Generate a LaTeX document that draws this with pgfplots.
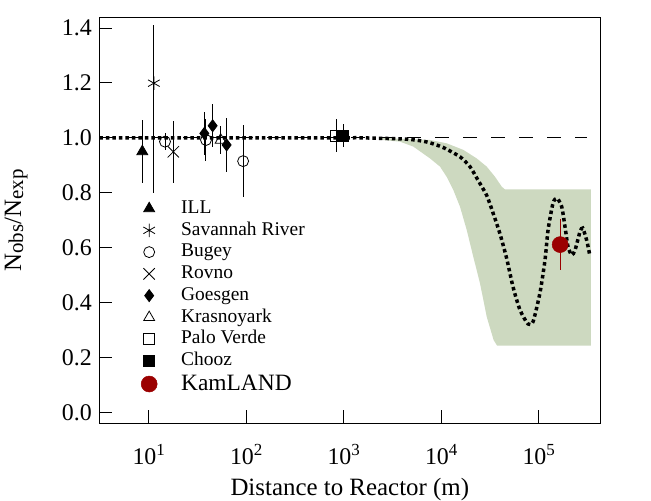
\documentclass[border=0pt]{standalone}
\usepackage{fontspec}
\setmainfont{Liberation Serif}
\usepackage{pgfplots}
\pgfplotsset{compat=1.18}
\definecolor{bandgreen}{RGB}{205,217,192}
\definecolor{kamred}{RGB}{155,0,0}
\newcommand\ex[1]{10\raisebox{9bp}{\fontsize{17}{17}\selectfont #1}}
\pgfplotsset{eb/.style={/pgfplots/error bars/y dir=both, /pgfplots/error bars/y explicit,
  /pgfplots/error bars/error mark=none, /pgfplots/error bars/error bar style={line width=1bp, black}}}
\begin{document}
\begin{tikzpicture}
\path[use as bounding box] (0,0) rectangle (651bp,501bp);
\begin{axis}[
  at={(99.3bp,78bp)}, anchor=south west,
  scale only axis, width=501bp, height=405bp,
  xmode=log, xmin=3.114, xmax=428500,
  ymin=-0.039, ymax=1.4365,
  axis line style={line width=1bp},
  tick align=inside, major tick length=12.5bp,
  every tick/.style={line width=1bp, black},
  xtick pos=left, ytick pos=left,
  xminorticks=false, yminorticks=false,
  xtick={10,100,1000,10000,100000},
  xticklabels={\ex{1},\ex{2},\ex{3},\ex{4},\ex{5}},
  ytick={0,0.2,0.4,0.6,0.8,1.0,1.2,1.4},
  /pgf/number format/assume math mode=true,
  /pgf/number format/fixed, /pgf/number format/fixed zerofill, /pgf/number format/precision=1,
  tick label style={font=\fontsize{24}{24}\selectfont},
  yticklabel style={anchor=east, inner sep=0pt, xshift=-7.3bp},
  xticklabel style={anchor=base, inner sep=0pt, yshift=-41bp},
  label style={font=\fontsize{25}{25}\selectfont},
  xlabel={Distance to Reactor (m)},
  xlabel style={at={(axis description cs:0.5,-0.1790)}, anchor=base, inner sep=0pt},
  ylabel={N\raisebox{-2bp}{\fontsize{21}{21}\selectfont obs}/N\raisebox{-2bp}{\fontsize{21}{21}\selectfont exp}},
  ylabel style={at={(axis description cs:-0.1560,0.5)}, anchor=base, inner sep=0pt},
  legend cell align=left,
  legend style={draw=none, fill=none, at={(axis description cs:0.0836,0.5523)}, anchor=north west,
    inner sep=0pt, outer sep=0pt, row sep=3.27bp, column sep=-24.8bp,
    font=\fontsize{19.5}{20}\selectfont, nodes={inner sep=0pt, text height=14bp, text depth=4.5bp}},
  legend image code/.code={\path (-8.5bp,0) (8.5bp,0); \draw[#1] plot coordinates {(0bp,0bp)};},
]
% allowed region band
\addplot[fill=bandgreen, draw=none, forget plot] coordinates {
(2360,1.0) (7674,0.992) (11376,0.980) (16866,0.956) (23121,0.925) (29309,0.895)
(35645,0.858) (41783,0.822) (45082,0.812) (343560,0.812)
(343560,0.243) (37411,0.243) (34514,0.263) (29309,0.348) (25003,0.470) (21330,0.567)
(18281,0.664) (15596,0.749) (13305,0.810) (11376,0.858) (9727,0.895) (7674,0.925)
(5176,0.968) (3776,0.986) (2360,0.993)} -- cycle;
% no-oscillation line
\addplot[black, line width=1.2bp, dash pattern=on 14bp off 14bp, forget plot] coordinates {(3.114,1.0) (313000,1.0)};
% best-fit oscillation
\addplot[black, line width=3.5bp, dash pattern=on 3.5bp off 3bp, smooth, tension=0.4, forget plot] coordinates {
(3.114,1.0) (100,1.0) (1000,1.0) (1473,1.0) (4426,0.995) (7096,0.985) (10423,0.965)
(15560,0.931) (19724,0.895) (23823,0.846) (29309,0.790) (33963,0.727) (40088,0.650)
(46989,0.560) (54450,0.458) (64269,0.373) (77625,0.322) (87498,0.330) (103039,0.435)
(116145,0.555) (124738,0.664) (140281,0.762) (154170,0.780) (172187,0.749)
(186209,0.676) (199986,0.603) (218273,0.573) (236048,0.591) (265461,0.658)
(283139,0.671) (310456,0.627) (334195,0.573)};
% data
\addplot[only marks, black, mark=triangle*, mark size=6.3bp, mark options={line width=0.8bp}, eb] coordinates {(8.6,0.95) +- (0,0.116)};
\addlegendentry{ILL}
\addplot[only marks, black, mark=asterisk, mark size=6.7bp, mark options={line width=0.8bp}, eb] coordinates {(11.3,1.199) += (0,0.212) -= (0,0.401)};
\addlegendentry{Savannah River}
\addplot[only marks, black, mark=o, mark size=5.5bp, mark options={line width=0.8bp}, eb] coordinates {(14.7,0.986) +- (0,0.03) (38.7,0.992) +- (0,0.075) (93,0.915) +- (0,0.13)};
\addlegendentry{Bugey}
\addplot[only marks, black, mark=x, mark size=8bp, mark options={line width=0.8bp}, eb] coordinates {(17.9,0.949) +- (0,0.112)};
\addlegendentry{Rovno}
\addplot[only marks, black, mark=diamond*, mark size=6bp, mark options={line width=0.8bp}, eb] coordinates {(37.2,1.016) +- (0,0.079) (45.3,1.044) +- (0,0.078) (63,0.974) +- (0,0.098)};
\addlegendentry{Goesgen}
\addplot[only marks, black, mark=triangle, mark size=6.3bp, mark options={line width=0.8bp}, eb] coordinates {(54.7,0.992) +- (0,0.052)};
\addlegendentry{Krasnoyark}
\addplot[only marks, black, mark=square, mark size=5.5bp, mark options={line width=0.8bp}, eb] coordinates {(834,1.008) +- (0,0.059)};
\addlegendentry{Palo Verde}
\addplot[only marks, black, mark=square*, mark size=5.5bp, mark options={line width=0.8bp}, eb] coordinates {(990,1.008) +- (0,0.043)};
\addlegendentry{Chooz}
\addplot[only marks, kamred, mark=*, mark size=8bp, mark options={line width=0.5bp, fill=kamred, draw=kamred},
  eb, /pgfplots/error bars/error bar style={line width=1.2bp, kamred}] coordinates {(166000,0.611) +- (0,0.094)};
\addlegendentry[text height=16.6bp]{\fontsize{23.5}{24}\selectfont KamLAND}
\end{axis}
\end{tikzpicture}
\end{document}
